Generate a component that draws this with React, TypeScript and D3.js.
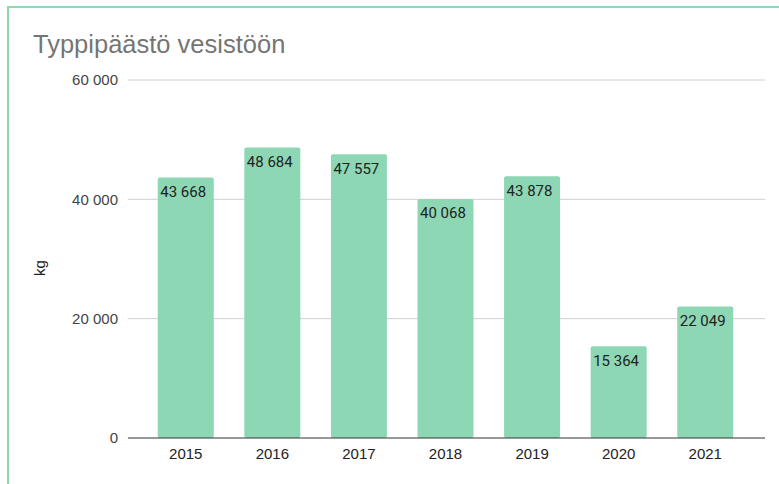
import React, { useEffect, useRef } from "react";
import * as d3 from "d3";

const years = ["2015", "2016", "2017", "2018", "2019", "2020", "2021"];
const values = [43668, 48684, 47557, 40068, 43878, 15364, 22049];
const yTicks = [0, 20000, 40000, 60000];

const fmt = (v: number) => d3.format(",")(v).replace(/,/g, " ");

export default function App() {
  const ref = useRef<SVGSVGElement>(null);

  useEffect(() => {
    const svg = d3.select(ref.current);
    svg.selectAll("*").remove();

    const width = 779;
    const height = 484;
    const green = "#8dd7b4";
    const arial = "'Liberation Sans', Arial, sans-serif";

    svg.attr("width", width).attr("height", height);

    // card border (runs off the right and bottom edges)
    svg.append("rect")
      .attr("x", 8)
      .attr("y", 7)
      .attr("width", width + 20)
      .attr("height", height + 20)
      .attr("fill", "#fff")
      .attr("stroke", green)
      .attr("stroke-width", 2);

    svg.append("text")
      .attr("x", 33)
      .attr("y", 53)
      .attr("font-family", arial)
      .attr("font-size", "25.5px")
      .attr("fill", "#757575")
      .text("Typpipäästö vesistöön");

    const x = d3.scaleBand()
      .domain(years)
      .range([142.5, 748.5])
      .paddingInner(0.353)
      .paddingOuter(0.176);

    const y = d3.scaleLinear()
      .domain([0, 60000])
      .range([438, 80]);

    // gridlines + y labels
    const grid = svg.append("g");
    yTicks.forEach(t => {
      if (t !== 0) {
        grid.append("line")
          .attr("x1", 128)
          .attr("x2", 765)
          .attr("y1", y(t))
          .attr("y2", y(t))
          .attr("stroke", "#d0d0d0")
          .attr("stroke-width", 1);
      }
      grid.append("text")
        .attr("x", 118)
        .attr("y", y(t))
        .attr("dy", "0.35em")
        .attr("text-anchor", "end")
        .attr("font-family", arial)
        .attr("font-size", "15px")
        .attr("fill", "#444")
        .text(fmt(t));
    });

    svg.append("text")
      .attr("transform", "translate(45,268) rotate(-90)")
      .attr("text-anchor", "middle")
      .attr("font-family", arial)
      .attr("font-size", "15px")
      .attr("fill", "#222")
      .text("kg");

    // bars
    svg.append("g")
      .selectAll("rect")
      .data(values)
      .join("rect")
      .attr("x", (d, i) => x(years[i])!)
      .attr("y", d => y(d))
      .attr("width", x.bandwidth())
      .attr("height", d => y(0) - y(d))
      .attr("rx", 2)
      .attr("fill", green);

    // value labels
    svg.append("g")
      .selectAll("text")
      .data(values)
      .join("text")
      .attr("x", (d, i) => x(years[i])! + 2.5)
      .attr("y", d => y(d) + 19.5)
      .attr("font-family", "Roboto, Arial, sans-serif")
      .attr("font-size", "15px")
      .attr("fill", "#222")
      .text(d => fmt(d));

    // baseline
    svg.append("line")
      .attr("x1", 128)
      .attr("x2", 765)
      .attr("y1", y(0))
      .attr("y2", y(0))
      .attr("stroke", "#333")
      .attr("stroke-width", 1);

    // x labels
    svg.append("g")
      .selectAll("text")
      .data(years)
      .join("text")
      .attr("x", d => x(d)! + x.bandwidth() / 2)
      .attr("y", 459)
      .attr("text-anchor", "middle")
      .attr("font-family", arial)
      .attr("font-size", "15px")
      .attr("fill", "#222")
      .text(d => d);
  }, []);

  return (
    <div style={{ position: "absolute", left: 0, top: 0 }}>
      <svg ref={ref}></svg>
    </div>
  );
}
